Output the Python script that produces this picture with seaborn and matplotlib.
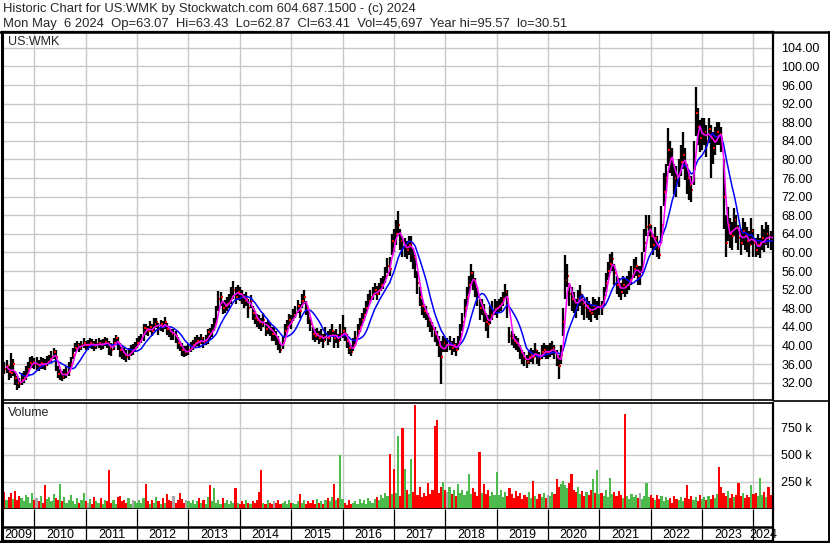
import numpy as np
import pandas as pd
import matplotlib
matplotlib.use("Agg")
import matplotlib.pyplot as plt
import seaborn as sns
from matplotlib.collections import LineCollection
from matplotlib.lines import Line2D

# ---------------- data (semi-monthly, May 2009 .. May 2024) ----------------
close = [
    35.8, 35.0, 35.5, 34.2, 34.0, 36.0, 33.0, 32.0, 31.8, 32.5, 33.0, 33.5, 35.0, 36.2, 36.5, 36.0,  # 2009
    36.0, 35.5, 36.2, 36.0, 35.8, 36.5, 37.0, 37.5, 38.5, 37.5, 33.8, 34.2, 33.2, 33.8, 34.0, 34.5, 36.0, 38.0, 39.5, 40.0, 39.5, 40.0, 40.5, 40.0,  # 2010
    40.0, 40.5, 40.2, 39.8, 40.3, 40.5, 40.0, 40.2, 40.8, 40.5, 39.5, 39.0, 40.5, 41.5, 40.5, 39.0, 38.5, 38.0, 37.5, 38.0, 39.0, 39.0, 39.5, 40.5,  # 2011
    41.0, 41.5, 43.8, 43.5, 43.0, 44.0, 43.0, 44.5, 45.0, 43.5, 44.5, 44.0, 45.0, 43.5, 43.0, 42.5, 42.5, 42.0, 40.5, 40.0, 39.0, 38.5, 38.5, 39.0,  # 2012
    39.5, 40.0, 40.5, 41.0, 40.5, 41.5, 40.5, 41.0, 42.8, 42.5, 43.0, 44.5, 46.0, 50.0, 50.5, 48.0, 48.5, 49.0, 49.5, 50.5, 52.0, 50.5, 51.5, 51.0,  # 2013
    50.5, 49.5, 50.0, 48.0, 49.5, 47.0, 46.0, 45.5, 45.0, 44.5, 45.5, 43.5, 44.0, 43.5, 42.5, 42.5, 41.5, 40.5, 39.0, 40.5, 43.0, 44.0, 45.5, 45.0,  # 2014
    46.5, 47.0, 48.5, 47.5, 49.5, 50.5, 48.0, 46.0, 44.5, 42.5, 42.0, 42.5, 41.5, 42.0, 41.0, 42.5, 41.5, 42.0, 43.0, 41.5, 42.0, 41.0, 42.5, 43.0,  # 2015
    42.5, 41.0, 39.5, 38.5, 40.0, 41.5, 43.0, 44.0, 45.5, 46.5, 48.0, 49.5, 50.5, 51.0, 52.0, 51.0, 52.0, 53.0, 53.5, 55.0, 57.0, 56.5, 62.5, 62.0,  # 2016
    64.0, 66.0, 62.5, 61.0, 61.5, 60.5, 61.5, 62.0, 59.0, 57.5, 53.5, 50.5, 48.5, 47.5, 47.0, 45.5, 44.5, 43.5, 42.5, 41.5, 40.0, 37.5, 40.5, 40.0,  # 2017
    40.0, 40.5, 39.5, 40.0, 39.0, 40.5, 42.5, 45.0, 48.0, 50.5, 53.0, 55.5, 54.0, 52.5, 50.5, 48.0, 48.5, 47.0, 45.0, 44.5, 46.5, 47.5, 47.8, 48.0,  # 2018
    48.5, 49.0, 50.0, 51.5, 50.0, 42.0, 41.5, 41.0, 40.5, 40.0, 38.5, 37.5, 37.0, 36.5, 37.5, 38.0, 37.5, 39.0, 37.5, 37.0, 38.5, 39.0, 38.5, 38.5,  # 2019
    39.0, 39.5, 38.5, 37.5, 35.5, 38.0, 45.0, 54.0, 55.0, 51.0, 50.0, 49.5, 48.0, 50.0, 51.0, 49.0, 48.0, 48.5, 47.5, 47.0, 48.5, 48.0, 48.2, 48.5,  # 2020
    48.0, 50.5, 53.5, 56.0, 57.5, 58.5, 55.5, 53.0, 52.5, 51.5, 53.0, 52.5, 53.0, 54.0, 55.0, 56.5, 57.0, 55.0, 55.0, 57.5, 62.0, 65.5, 66.0, 63.5,  # 2021
    61.5, 63.0, 61.0, 59.5, 66.0, 73.0, 76.0, 82.0, 80.0, 79.5, 76.0, 75.5, 77.0, 79.5, 81.0, 79.0, 76.0, 74.5, 73.5, 78.0, 90.0, 87.0, 84.5, 85.5,  # 2022
    86.0, 84.0, 86.5, 84.5, 82.5, 84.0, 86.0, 85.5, 84.5, 72.0, 62.0, 66.0, 64.0, 63.5, 67.0, 65.5, 63.0, 62.0, 64.5, 63.5, 62.5, 61.5, 64.5, 62.0,  # 2023
    60.5, 61.5, 62.0, 63.0, 62.0, 64.0, 63.5, 62.5, 63.4,  # 2024
]
high = [
    37.0, 36.5, 36.8, 35.5, 38.3, 37.0, 34.5, 33.5, 33.0, 34.0, 34.5, 35.5, 36.5, 37.5, 37.8, 37.2,
    37.5, 36.8, 37.5, 37.2, 37.0, 37.8, 38.0, 38.8, 39.5, 39.0, 35.5, 35.0, 34.5, 35.0, 35.5, 36.5, 37.5, 39.5, 40.5, 41.0, 40.5, 41.0, 41.5, 41.0,
    41.2, 41.5, 41.3, 41.0, 41.3, 41.5, 41.2, 41.3, 41.8, 41.6, 41.0, 40.5, 41.5, 42.3, 41.8, 40.5, 39.8, 39.5, 39.0, 39.5, 40.0, 40.2, 40.8, 41.5,
    42.0, 42.5, 44.5, 44.5, 44.2, 45.2, 44.5, 45.8, 46.0, 44.8, 45.5, 45.2, 46.2, 44.8, 44.2, 43.5, 43.5, 43.2, 41.8, 41.0, 40.5, 39.8, 39.8, 40.2,
    40.8, 41.2, 41.8, 42.2, 41.8, 42.5, 41.8, 42.2, 43.5, 43.8, 44.5, 46.0, 48.5, 51.8, 51.5, 49.5, 49.8, 50.5, 51.0, 52.5, 53.8, 52.5, 53.0, 52.5,
    52.0, 51.0, 51.5, 50.0, 50.8, 48.5, 47.5, 46.8, 46.5, 46.0, 46.8, 45.0, 45.5, 45.0, 44.0, 44.0, 43.0, 42.0, 40.5, 42.0, 44.5, 45.5, 46.8, 46.5,
    47.8, 48.5, 49.8, 49.0, 51.0, 52.0, 49.5, 47.5, 46.0, 44.0, 43.5, 43.8, 43.0, 43.5, 42.5, 44.0, 43.0, 43.5, 44.5, 43.0, 43.5, 42.5, 44.5, 46.5,
    44.0, 42.5, 41.0, 40.0, 41.5, 43.0, 44.5, 45.8, 47.0, 48.0, 49.5, 51.0, 52.0, 52.5, 53.5, 52.8, 53.5, 54.5, 55.0, 56.8, 58.8, 59.0, 64.0, 65.0,
    67.0, 69.0, 65.0, 63.5, 63.0, 62.5, 63.5, 63.5, 61.0, 59.5, 56.0, 52.5, 50.0, 49.0, 48.5, 47.0, 46.0, 45.0, 44.0, 43.0, 42.0, 41.0, 42.0, 41.5,
    41.5, 42.0, 41.0, 41.5, 40.5, 42.0, 44.5, 47.0, 50.0, 52.5, 55.0, 57.6, 56.0, 54.5, 52.5, 50.0, 50.0, 48.8, 47.0, 46.5, 48.5, 49.5, 50.0, 49.5,
    50.0, 50.5, 51.5, 53.3, 52.0, 44.0, 43.0, 42.5, 42.0, 41.5, 40.0, 39.0, 38.5, 38.0, 39.0, 39.5, 39.0, 40.5, 39.0, 38.5, 40.0, 40.5, 40.0, 40.0,
    40.5, 41.0, 40.0, 39.0, 38.0, 40.0, 48.0, 59.4, 57.5, 53.5, 52.5, 51.5, 50.0, 52.0, 53.0, 51.0, 50.0, 50.5, 49.5, 49.0, 50.5, 50.0, 49.5, 50.5,
    49.5, 52.5, 55.5, 58.0, 59.7, 60.0, 57.5, 55.0, 54.5, 53.5, 55.0, 54.5, 55.0, 56.0, 57.0, 58.5, 59.0, 57.0, 57.0, 60.0, 65.0, 68.0, 68.0, 66.0,
    64.0, 65.5, 63.5, 61.5, 70.0, 77.0, 79.0, 86.7, 84.0, 82.5, 79.0, 78.5, 80.0, 83.0, 86.0, 82.5, 79.0, 77.0, 76.5, 84.0, 95.6, 91.0, 88.5, 89.0,
    89.0, 87.5, 89.0, 87.5, 86.0, 87.0, 88.0, 88.0, 87.0, 80.0, 68.0, 69.8, 67.5, 66.5, 69.5, 68.0, 66.0, 65.0, 67.5, 66.5, 65.5, 64.5, 67.5, 65.0,
    63.0, 64.0, 63.0, 66.0, 65.0, 66.5, 66.0, 64.5, 64.0,
]
low = [
    34.5, 33.8, 34.0, 32.5, 33.0, 33.5, 31.5, 30.5, 30.8, 31.5, 32.0, 32.5, 33.5, 35.0, 35.2, 35.0,
    34.8, 34.5, 35.0, 35.0, 34.8, 35.5, 36.0, 36.5, 37.0, 34.5, 33.0, 32.5, 32.3, 32.8, 33.0, 33.5, 35.0, 37.0, 38.5, 39.0, 38.5, 39.0, 39.5, 39.0,
    39.0, 39.5, 39.2, 38.8, 39.3, 39.5, 39.0, 39.2, 39.8, 39.5, 38.0, 37.8, 39.0, 40.0, 39.0, 37.5, 37.0, 36.8, 36.5, 36.8, 37.8, 38.0, 38.5, 39.5,
    40.0, 40.5, 41.0, 42.3, 42.0, 42.8, 42.0, 43.2, 43.8, 42.3, 43.2, 42.8, 43.5, 42.2, 41.8, 41.2, 41.2, 40.5, 39.2, 38.8, 37.8, 37.6, 37.8, 38.0,
    38.5, 39.0, 39.5, 39.8, 39.5, 40.2, 39.5, 40.0, 40.3, 41.2, 41.8, 43.2, 44.8, 47.5, 48.5, 46.8, 47.0, 47.5, 48.0, 49.0, 50.0, 49.0, 49.8, 49.5,
    49.0, 48.0, 48.5, 46.0, 48.0, 45.5, 44.5, 44.0, 43.5, 43.0, 44.0, 42.0, 42.5, 42.0, 41.0, 41.0, 40.0, 39.0, 38.3, 39.2, 41.5, 42.8, 44.0, 43.5,
    45.2, 45.8, 47.0, 46.0, 48.0, 49.0, 46.5, 44.5, 43.0, 41.2, 40.8, 41.2, 40.2, 40.8, 39.5, 41.0, 40.0, 40.8, 41.8, 39.5, 40.5, 39.5, 41.0, 41.5,
    41.0, 39.5, 38.2, 37.8, 38.8, 40.2, 41.8, 42.8, 44.2, 45.2, 46.8, 48.2, 49.2, 49.8, 50.8, 49.8, 50.8, 51.8, 52.2, 53.5, 55.5, 55.0, 59.5, 60.0,
    61.5, 63.5, 60.5, 59.0, 59.0, 58.5, 59.5, 58.0, 56.5, 54.5, 51.0, 48.5, 46.5, 45.8, 45.5, 44.0, 42.8, 41.8, 40.8, 39.8, 37.5, 31.7, 38.5, 38.5,
    38.5, 39.0, 38.0, 38.5, 37.8, 39.0, 41.0, 43.0, 46.0, 48.5, 51.0, 53.0, 52.0, 50.5, 48.5, 45.5, 46.5, 45.0, 43.0, 41.5, 44.5, 45.5, 46.5, 46.0,
    47.0, 47.5, 48.5, 50.0, 46.0, 40.5, 40.0, 39.5, 39.0, 38.5, 37.0, 36.0, 35.5, 35.2, 36.0, 36.5, 36.0, 37.5, 36.0, 35.5, 37.0, 37.5, 37.0, 37.0,
    37.5, 38.0, 37.0, 35.5, 32.8, 36.0, 42.0, 50.0, 52.5, 48.5, 47.5, 47.0, 46.0, 47.5, 48.5, 46.5, 45.5, 46.0, 45.5, 45.0, 46.5, 46.0, 45.5, 46.5,
    46.5, 48.5, 51.5, 54.0, 55.5, 56.0, 53.0, 51.0, 50.5, 49.8, 51.0, 50.5, 51.0, 52.0, 53.0, 54.5, 55.0, 53.0, 53.0, 55.5, 60.0, 63.5, 63.5, 61.0,
    59.5, 60.5, 59.0, 58.5, 62.0, 70.0, 73.0, 78.5, 77.0, 76.5, 72.5, 72.0, 74.0, 76.5, 78.0, 75.5, 72.5, 71.2, 70.9, 74.5, 85.0, 83.0, 81.5, 82.0,
    83.0, 80.5, 83.5, 76.0, 79.0, 81.0, 83.0, 83.0, 81.5, 65.0, 59.0, 62.5, 61.0, 60.5, 63.5, 62.0, 60.5, 59.5, 61.5, 60.5, 60.0, 59.0, 61.5, 59.0,
    59.0, 59.5, 58.8, 60.5, 60.0, 61.5, 61.0, 60.5, 62.5,
]
volume_k = [
    120, 160, 80, 110, 150, 90, 170, 80, 120, 100, 70, 130, 110, 60, 150, 80,
    100, 70, 120, 60, 220, 90, 110, 70, 140, 100, 80, 230, 70, 110, 60, 80, 130, 70, 50, 100, 60, 80, 150, 70,
    60, 90, 50, 110, 70, 60, 100, 50, 80, 70, 360, 60, 80, 50, 110, 120, 70, 80, 60, 100, 50, 80, 70, 60,
    80, 60, 100, 230, 70, 50, 80, 60, 110, 70, 50, 100, 60, 140, 80, 70, 120, 60, 80, 150, 90, 60, 80, 70,
    60, 80, 50, 70, 100, 60, 80, 50, 110, 220, 70, 190, 60, 80, 50, 100, 60, 80, 50, 70, 60, 190, 60, 50,
    70, 50, 80, 60, 50, 70, 60, 80, 160, 360, 60, 50, 80, 60, 50, 70, 60, 80, 50, 60, 70, 50, 80, 60,
    60, 50, 70, 140, 60, 80, 50, 70, 60, 80, 50, 90, 60, 70, 50, 80, 100, 70, 110, 230, 80, 100, 500, 90,
    60, 40, 80, 50, 60, 70, 50, 90, 60, 80, 50, 100, 70, 60, 90, 110, 80, 130, 100, 150, 120, 505, 140, 370,
    150, 676, 120, 750, 370, 180, 140, 460, 160, 963, 130, 200, 110, 150, 120, 240, 140, 180, 770, 826, 150, 200, 250, 180,
    160, 200, 140, 180, 120, 230, 150, 180, 130, 170, 320, 140, 190, 160, 120, 525, 150, 230, 140, 180, 120, 160, 130, 340,
    130, 180, 110, 160, 120, 190, 140, 100, 170, 120, 150, 90, 130, 110, 160, 100, 260, 120, 90, 140, 110, 150, 100, 130,
    120, 160, 140, 280, 200, 230, 260, 220, 190, 240, 320, 180, 160, 200, 140, 170, 120, 160, 130, 180, 280, 150, 360, 140,
    150, 120, 180, 110, 290, 140, 160, 120, 170, 130, 100, 877, 120, 90, 140, 110, 130, 100, 150, 90, 120, 240, 110, 130,
    100, 80, 130, 90, 120, 70, 110, 80, 100, 60, 120, 90, 80, 110, 70, 100, 220, 90, 120, 80, 110, 70, 130, 90,
    110, 80, 120, 90, 130, 100, 140, 385, 200, 150, 120, 170, 100, 140, 110, 130, 240, 120, 150, 100, 130, 110, 220, 140,
    150, 120, 290, 130, 160, 110, 200, 130, 100,
]
year_labels = list(range(2009, 2025))
price_ticks = list(range(32, 105, 4))
volume_ticks = [250000, 500000, 750000]
header_1 = "Historic Chart for US:WMK by Stockwatch.com 604.687.1500 - (c) 2024"
header_2 = ("Mon May  6 2024  Op=63.07  Hi=63.43  Lo=62.87  Cl=63.41  "
            "Vol=45,697  Year hi=95.57  lo=30.51")
symbol = "US:WMK"

n = len(close)
assert n == len(high) == len(low) == len(volume_k) == 361

# ---------------- frame ----------------
sns.set_style("white")
plt.rcParams["font.family"] = ["Liberation Sans", "DejaVu Sans"]
plt.rcParams["font.size"] = 9

W, H = 830, 543
fig = plt.figure(figsize=(W / 100, H / 100), dpi=100)
fig.patch.set_facecolor("white")


def fx(px):
    return px / W


def fy(py):
    return 1 - py / H


L, R = 2, 773
XL = (2009.37, 2024.38)
t = 2009.375 + np.arange(n) / 24.0
df = pd.DataFrame({"t": t, "close": close, "high": high, "low": low,
                   "vol": np.array(volume_k) * 1000.0})
df["ma_fast"] = df["close"].rolling(3).mean()
df["ma_slow"] = df["close"].rolling(9).mean()
chg = df["close"].diff().fillna(0)
df["vcol"] = np.where(chg > 0, "#4DBA4D", np.where(chg < 0, "#FF0000", "#A8A8A8"))

ax = fig.add_axes([fx(L), fy(400), fx(R - L), (400 - 32) / H])
axv = fig.add_axes([fx(L), fy(509), fx(R - L), (509 - 403) / H])
axd = fig.add_axes([fx(L), fy(541), fx(R - L), (541 - 509) / H])

grid_c = "#C8C8C8"
year_starts = [y for y in year_labels if XL[0] < y < XL[1]]

for a in (ax, axv, axd):
    a.set_xlim(*XL)
    a.set_facecolor("white")
    a.set_axisbelow(True)
    for s in a.spines.values():
        s.set_color("black")
    a.spines["left"].set_linewidth(2.2)
    a.spines["right"].set_linewidth(1.6)

# ---- price panel ----
ax.set_ylim(28.26, 107.4)
ax.set_xticks(year_starts)
ax.set_yticks(price_ticks)
ax.yaxis.tick_right()
ax.set_yticklabels([f"{v:.2f}" for v in price_ticks])
ax.tick_params(axis="y", length=0, pad=6, labelsize=9, colors="black")
ax.tick_params(axis="x", length=0, labelbottom=False)
ax.grid(True, color=grid_c, linewidth=1.0)
ax.spines["top"].set_linewidth(1.6)
ax.spines["bottom"].set_linewidth(1.2)

bars = [[(ti, lo_), (ti, hi_)] for ti, lo_, hi_ in zip(df["t"], df["low"], df["high"])]
ax.add_collection(LineCollection(bars, colors="black", linewidths=1.65,
                                 capstyle="butt", zorder=2))
dx0, dx1 = 0.4 / 51.4, 2.0 / 51.4
ticks = [[(ti + dx0, cl_), (ti + dx1, cl_)] for ti, cl_ in zip(df["t"], df["close"])]
ax.add_collection(LineCollection(ticks, colors="#FF0000", linewidths=1.5,
                                 capstyle="butt", zorder=2.5))

sns.lineplot(data=df, x="t", y="ma_slow", ax=ax, color="#0000FF",
             linewidth=1.1, legend=False, zorder=3)
sns.lineplot(data=df, x="t", y="ma_fast", ax=ax, color="#FF00FF",
             linewidth=1.1, legend=False, zorder=4)
ax.set_xlabel("")
ax.set_ylabel("")
ax.set_xlim(*XL)
ax.set_ylim(28.26, 107.4)

# ---- volume panel ----
axv.bar(df["t"], df["vol"], width=1 / 24.0, color=df["vcol"], linewidth=0,
        align="center", zorder=2)
axv.set_ylim(0, 981000)
axv.set_xticks(year_starts)
axv.set_yticks(volume_ticks)
axv.yaxis.tick_right()
axv.set_yticklabels([f"{v // 1000} k" for v in volume_ticks])
axv.tick_params(axis="y", length=0, pad=6, labelsize=9, colors="black")
axv.tick_params(axis="x", length=0, labelbottom=False)
axv.grid(True, color=grid_c, linewidth=1.0)
axv.spines["top"].set_linewidth(1.2)
axv.spines["bottom"].set_linewidth(1.2)

# ---- date strip ----
axd.set_ylim(0, 1)
axd.set_xticks([])
axd.set_yticks([])
axd.spines["top"].set_visible(False)
axd.spines["bottom"].set_linewidth(1.6)
axd.vlines(year_starts, 0, 1, color="black", linewidth=0.9)
axd.axhline(0.45, color="black", linewidth=1.8)
for y in year_labels:
    a0, a1 = max(y, XL[0]), min(y + 1, XL[1])
    axd.text((a0 + a1) / 2, 0.2, str(y), ha="center", va="center",
             fontsize=9, color="black")

# ---- header & frame lines ----
fig.text(fx(3), fy(9), header_1, fontsize=9.4, va="center", ha="left")
fig.text(fx(3), fy(24), header_2, fontsize=9.4, va="center", ha="left")
fig.text(fx(8), fy(42), symbol, fontsize=9, va="center", ha="left")
fig.text(fx(8), fy(413), "Volume", fontsize=9, va="center", ha="left")

for xs, ys, lw in [
    ([0, 1], [fy(32), fy(32)], 1.8),
    ([fx(774), 1], [fy(400.5), fy(400.5)], 1.2),
    ([0, 1], [fy(541.5), fy(541.5)], 1.6),
    ([fx(829), fx(829)], [fy(32), fy(542)], 1.4),
]:
    fig.add_artist(Line2D(xs, ys, transform=fig.transFigure, color="black",
                          linewidth=lw))

fig.savefig("out.png", dpi=100, facecolor="white")
